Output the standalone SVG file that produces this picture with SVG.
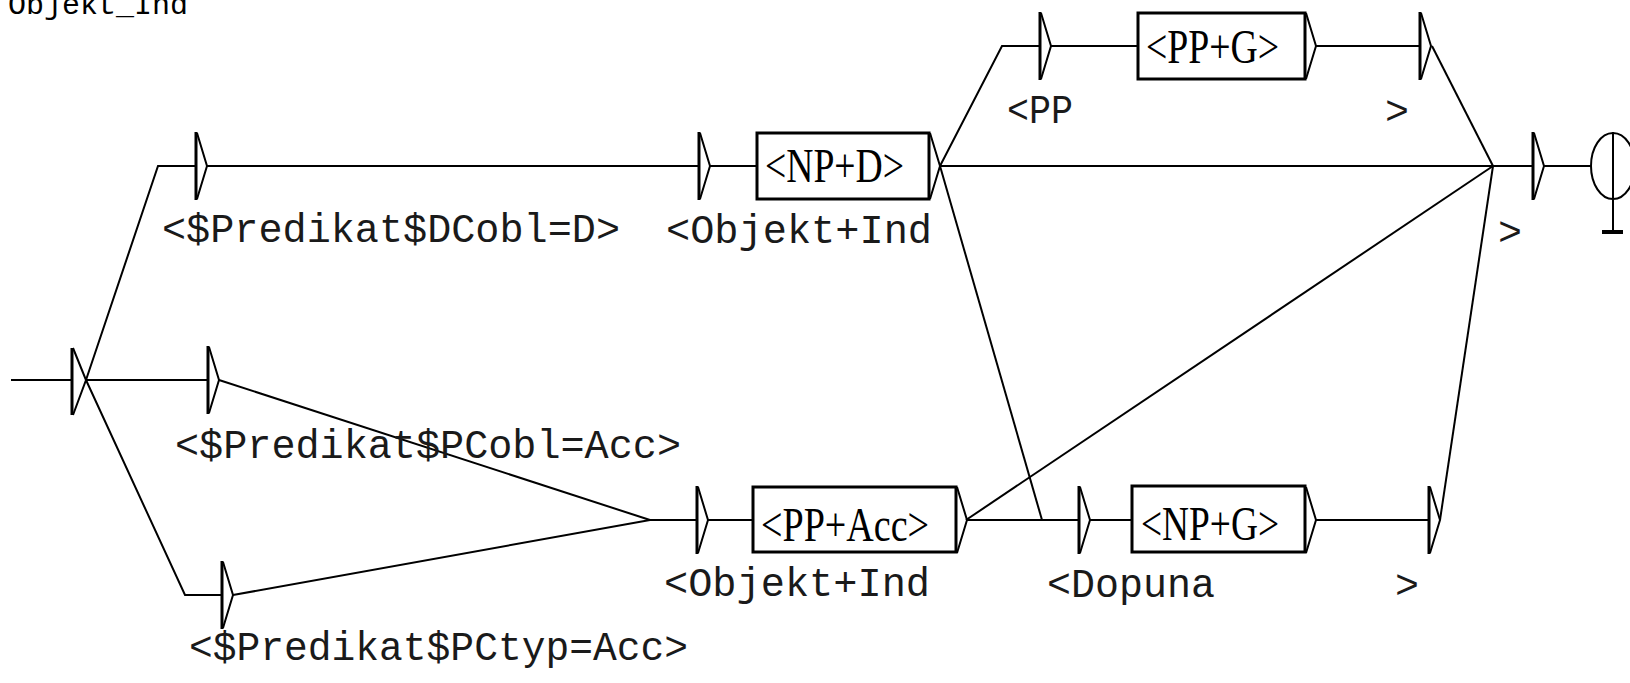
<svg xmlns="http://www.w3.org/2000/svg" width="1630" height="683" viewBox="0 0 1630 683">
<style>
.ln{fill:none;stroke:#000;stroke-width:2}
.ar{fill:none;stroke:#000;stroke-width:2}
.arv{stroke:#000;stroke-width:3}
.bx{fill:#fff;stroke:#000;stroke-width:3}
.lab{font-family:"Liberation Mono",monospace;font-size:40px;fill:#1a1a1a}
.btx{font-family:"Liberation Serif",serif;font-size:48px;fill:#000}
.ttl{font-family:"Liberation Mono",monospace;font-size:30px;fill:#000}
</style>
<defs>
<g id="eps"><line class="arv" x1="0" y1="-34" x2="0" y2="34"/><path class="ar" d="M1,-33 L11,0 L1,33"/></g>
<path id="out" class="ar" d="M0,-33 L10,0 L0,33"/>
</defs>
<rect width="1630" height="683" fill="#fff"/>
<text class="ttl" x="8" y="14">Objekt_Ind</text>

<g id="connectors">
<path class="ln" d="M11,380 H34" stroke-width="4"/>
<path class="ln" d="M34,380 H72"/>
<path class="ln" d="M86,380 L158,166 H196"/>
<path class="ln" d="M86,380 H208"/>
<path class="ln" d="M86,380 L185,595 H222"/>
<path class="ln" d="M207,166 H699"/>
<path class="ln" d="M219,380 L650,520"/>
<path class="ln" d="M233,595 L650,520 H697"/>
<path class="ln" d="M710,166 H757"/>
<path class="ln" d="M708,520 H753"/>
<path class="ln" d="M940,166 L1002,46 H1040"/>
<path class="ln" d="M940,166 H1533"/>
<path class="ln" d="M940,166 L1042,520"/>
<path class="ln" d="M966,520 H1079"/>
<path class="ln" d="M966,520 L1493,166"/>
<path class="ln" d="M1051,46 H1138"/>
<path class="ln" d="M1315,46 H1420"/>
<path class="ln" d="M1432,46 L1493,166"/>
<path class="ln" d="M1090,520 H1132"/>
<path class="ln" d="M1315,520 H1429"/>
<path class="ln" d="M1440,520 L1493,166"/>
<path class="ln" d="M1543,166 H1591"/>
</g>

<g id="initial">
<line class="arv" x1="72" y1="348" x2="72" y2="415"/>
<path class="ar" d="M73,348 L86,380 L73,415"/>
</g>

<g id="n_dcobl">
<use href="#eps" x="196" y="166"/>
<text class="lab" x="162" y="242" textLength="458" lengthAdjust="spacingAndGlyphs">&lt;$Predikat$DCobl=D&gt;</text>
</g>

<g id="n_pcobl">
<use href="#eps" x="208" y="380"/>
<text class="lab" x="175" y="458" textLength="506" lengthAdjust="spacingAndGlyphs">&lt;$Predikat$PCobl=Acc&gt;</text>
</g>

<g id="n_pctyp">
<use href="#eps" x="222" y="595"/>
<text class="lab" x="189" y="660" textLength="499" lengthAdjust="spacingAndGlyphs">&lt;$Predikat$PCtyp=Acc&gt;</text>
</g>

<g id="n_obj1">
<use href="#eps" x="699" y="166"/>
<text class="lab" x="666" y="243" textLength="266" lengthAdjust="spacingAndGlyphs">&lt;Objekt+Ind</text>
</g>

<g id="n_npd">
<rect class="bx" x="757" y="133" width="172" height="66"/>
<text class="btx" x="765" y="182" textLength="139" lengthAdjust="spacingAndGlyphs">&lt;NP+D&gt;</text>
<use href="#out" x="930" y="166"/>
</g>

<g id="n_obj2">
<use href="#eps" x="697" y="520"/>
<text class="lab" x="664" y="596" textLength="266" lengthAdjust="spacingAndGlyphs">&lt;Objekt+Ind</text>
</g>

<g id="n_ppacc">
<rect class="bx" x="753" y="487" width="203" height="65"/>
<text class="btx" x="761" y="541" textLength="168" lengthAdjust="spacingAndGlyphs">&lt;PP+Acc&gt;</text>
<use href="#out" x="957" y="520"/>
</g>

<g id="n_pp_open">
<use href="#eps" x="1040" y="46"/>
<text class="lab" x="1007" y="123" textLength="66" lengthAdjust="spacingAndGlyphs">&lt;PP</text>
</g>

<g id="n_ppg">
<rect class="bx" x="1138" y="13" width="167" height="66"/>
<text class="btx" x="1146" y="63" textLength="133" lengthAdjust="spacingAndGlyphs">&lt;PP+G&gt;</text>
<use href="#out" x="1306" y="46"/>
</g>

<g id="n_pp_close">
<use href="#eps" x="1420" y="46"/>
<text class="lab" x="1385" y="124">&gt;</text>
</g>

<g id="n_dop_open">
<use href="#eps" x="1079" y="520"/>
<text class="lab" x="1047" y="597" textLength="168" lengthAdjust="spacingAndGlyphs">&lt;Dopuna</text>
</g>

<g id="n_npg">
<rect class="bx" x="1132" y="486" width="173" height="66"/>
<text class="btx" x="1141" y="540" textLength="138" lengthAdjust="spacingAndGlyphs">&lt;NP+G&gt;</text>
<use href="#out" x="1306" y="520"/>
</g>

<g id="n_dop_close">
<use href="#eps" x="1429" y="520"/>
<text class="lab" x="1395" y="598">&gt;</text>
</g>

<g id="n_close">
<use href="#eps" x="1533" y="166"/>
<text class="lab" x="1498" y="245">&gt;</text>
</g>

<g id="final">
<ellipse cx="1613" cy="166" rx="22" ry="33" fill="none" stroke="#000" stroke-width="2"/>
<line x1="1613" y1="132" x2="1613" y2="232" stroke="#000" stroke-width="2"/>
<line x1="1602" y1="232" x2="1623" y2="232" stroke="#000" stroke-width="4"/>
</g>
</svg>
